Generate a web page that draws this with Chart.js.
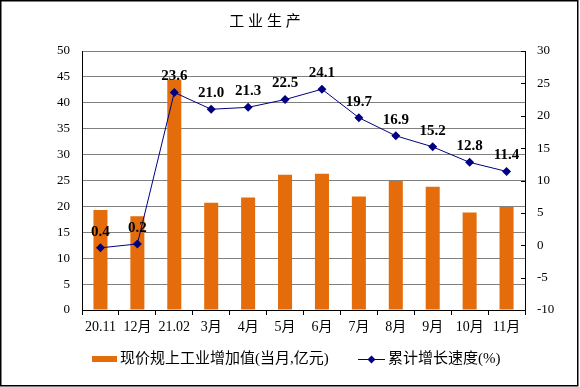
<!DOCTYPE html>
<html>
<head>
<meta charset="utf-8">
<script src="https://cdn.jsdelivr.net/npm/chart.js@4"></script>
<style>
  html, body { margin: 0; padding: 0; background: #fff; }
  #wrap { width: 580px; height: 387px; position: relative; }
</style>
</head>
<body>
<div id="wrap"><canvas id="chart" width="580" height="387"></canvas></div>
<script>
const months = ['20.11', '12月', '21.02', '3月', '4月', '5月', '6月', '7月', '8月', '9月', '10月', '11月'];
const addedValue = [19.3, 18.1, 44.5, 20.7, 21.7, 26.1, 26.3, 21.9, 24.9, 23.8, 18.8, 19.9];
const growthRate = [-0.4, 0.2, 23.6, 21.0, 21.3, 22.5, 24.1, 19.7, 16.9, 15.2, 12.8, 11.4];
// labels as printed on the picture (the first one has no minus sign)
const growthLabels = ['0.4', '0.2', '23.6', '21.0', '21.3', '22.5', '24.1', '19.7', '16.9', '15.2', '12.8', '11.4'];
const leftTicks = [0, 50, 5];
const rightTicks = [-10, 30, 5];

const serif = "'Liberation Serif', 'Noto Sans CJK SC', serif";
const orange = '#E46C0A';
const navy = '#000080';

const decor = {
  id: 'decor',
  afterDatasetsDraw(chart) {
    const ctx = chart.ctx;
    const meta = chart.getDatasetMeta(0);
    ctx.save();
    ctx.font = 'bold 15px ' + serif;
    ctx.fillStyle = '#000';
    ctx.textAlign = 'center';
    ctx.textBaseline = 'middle';
    meta.data.forEach((pt, i) => {
      ctx.fillText(growthLabels[i], pt.x, pt.y - 16);
    });
    ctx.restore();
  },
  afterDraw(chart) {
    const ctx = chart.ctx;
    const area = chart.chartArea;
    const y1 = chart.scales.y1;
    ctx.save();
    // inward ticks on the right axis
    ctx.strokeStyle = '#000';
    ctx.lineWidth = 1;
    y1.ticks.forEach(t => {
      const y = Math.round(y1.getPixelForValue(t.value)) + 0.5;
      ctx.beginPath();
      ctx.moveTo(area.right - 4, y);
      ctx.lineTo(area.right, y);
      ctx.stroke();
    });
    // title
    ctx.fillStyle = '#000';
    ctx.font = '15px ' + serif;
    ctx.textAlign = 'center';
    ctx.textBaseline = 'middle';
    ctx.fillText('工 业 生 产', 265, 22);
    // legend
    ctx.font = '15px ' + serif;
    ctx.textAlign = 'left';
    ctx.fillStyle = orange;
    ctx.fillRect(92, 356, 25, 6);
    ctx.fillStyle = '#000';
    ctx.fillText(chart.data.datasets[1].label, 120, 359);
    ctx.strokeStyle = navy;
    ctx.beginPath();
    ctx.moveTo(358, 359.5);
    ctx.lineTo(385, 359.5);
    ctx.stroke();
    ctx.fillStyle = navy;
    ctx.beginPath();
    ctx.moveTo(371.5, 355.5);
    ctx.lineTo(375.5, 359.5);
    ctx.lineTo(371.5, 363.5);
    ctx.lineTo(367.5, 359.5);
    ctx.closePath();
    ctx.fill();
    ctx.fillStyle = '#000';
    ctx.fillText(chart.data.datasets[0].label, 388, 359);
    // outer border
    ctx.strokeStyle = '#000';
    ctx.lineWidth = 1.5;
    ctx.strokeRect(0.75, 0.75, 577, 385);
    ctx.restore();
  }
};

new Chart(document.getElementById('chart'), {
  data: {
    labels: months,
    datasets: [
      {
        type: 'line',
        label: '累计增长速度(%)',
        data: growthRate,
        yAxisID: 'y1',
        borderColor: navy,
        borderWidth: 1,
        backgroundColor: navy,
        pointStyle: 'rectRot',
        pointRadius: 4.5,
        pointBorderWidth: 0,
        pointBackgroundColor: navy,
        tension: 0,
        order: 0
      },
      {
        type: 'bar',
        label: '现价规上工业增加值(当月,亿元)',
        data: addedValue,
        yAxisID: 'y',
        backgroundColor: orange,
        barPercentage: 0.38,
        categoryPercentage: 1.0,
        order: 1
      }
    ]
  },
  options: {
    responsive: false,
    animation: false,
    layout: { padding: { top: 51, left: 0, right: 0, bottom: 0 } },
    plugins: {
      legend: { display: false },
      title: { display: false },
      tooltip: { enabled: false }
    },
    scales: {
      x: {
        offset: true,
        afterFit(s) { s.height = 77; },
        grid: { offset: true, drawOnChartArea: false, drawTicks: true, tickLength: 5, color: '#000' },
        border: { color: '#000', width: 1 },
        ticks: { color: '#000', font: { family: serif, size: 14 }, padding: 4, maxRotation: 0, autoSkip: false }
      },
      y: {
        position: 'left',
        min: leftTicks[0],
        max: leftTicks[1],
        afterFit(s) { s.width = 82; },
        ticks: { stepSize: leftTicks[2], color: '#000', font: { family: serif, size: 13 }, padding: 12 },
        grid: { color: '#808080', lineWidth: 1, drawTicks: false },
        border: { color: '#000', width: 1 }
      },
      y1: {
        position: 'right',
        min: rightTicks[0],
        max: rightTicks[1],
        afterFit(s) { s.width = 55; },
        ticks: { stepSize: rightTicks[2], color: '#000', font: { family: serif, size: 13 }, padding: 12 },
        grid: { drawOnChartArea: false, drawTicks: false },
        border: { color: '#000', width: 1 }
      }
    }
  },
  plugins: [decor]
});
</script>
</body>
</html>
